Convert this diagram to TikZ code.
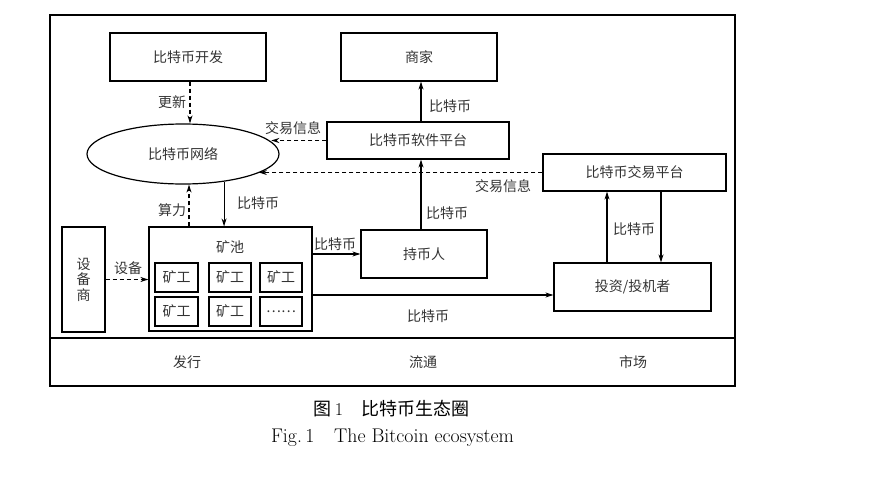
\documentclass[tikz,border=0pt]{standalone}
\usepackage{fontspec}
\newfontfamily\cjk{Noto Sans CJK SC}
\usetikzlibrary{arrows.meta,shapes.geometric}
\begin{document}
\begin{tikzpicture}[x=1pt,y=-1pt,
  lbl/.style={inner sep=0pt,text=black!80,font=\cjk\fontsize{14}{15.5}\selectfont},
  box/.style={lbl,draw=black,line width=1.2pt},
  minerbox/.style={lbl,draw=black,line width=1.8pt,minimum height=29pt},
  arr/.style={line width=1.1pt,-{Stealth[length=8pt,width=5pt]}},
  darr/.style={arr,dash pattern=on 4pt off 3pt}]
\useasboundingbox (0,0) rectangle (881,482);
% frame
\draw[line width=1.2pt] (50,15) rectangle (735,386);
\draw[line width=1.2pt] (50,338) -- (735,338);
% nodes
\node[box,minimum width=156pt,minimum height=48pt] (dev) at (188,57) {比特币开发};
\node[box,minimum width=156pt,minimum height=48pt] (shop) at (419,57) {商家};
\node[box,minimum width=182pt,minimum height=37pt] (soft) at (418,140.5) {比特币软件平台};
\node[box,minimum width=183pt,minimum height=37pt] (exch) at (634.5,172.5) {比特币交易平台};
\node[box,ellipse,minimum width=192pt,minimum height=60pt] (net) at (183,154) {比特币网络};
\node[box,minimum width=43pt,minimum height=105pt,align=center] (eq) at (83.5,279.5) {设\\备\\商};
\node[box,minimum width=163pt,minimum height=104pt] (pool) at (230.5,279) {};
\node[lbl] (pooltitle) at (230,247) {矿池};
\node[minerbox,minimum width=43pt] (m1) at (176.5,277.5) {矿工};
\node[minerbox,minimum width=42pt] (m2) at (230,277.5) {矿工};
\node[minerbox,minimum width=42pt] (m3) at (281,277.5) {矿工};
\node[minerbox,minimum width=43pt] (m4) at (176.5,311.5) {矿工};
\node[minerbox,minimum width=42pt] (m5) at (230,311.5) {矿工};
\node[minerbox,minimum width=42pt] (m6) at (281,311.5) {……};
\node[box,minimum width=126pt,minimum height=48pt] (holder) at (424,254) {持币人};
\node[box,minimum width=157pt,minimum height=48pt] (inv) at (632.5,287) {投资/投机者};
% helper coordinates
\coordinate (cA) at (190,0);
\coordinate (cB) at (189,0);
\coordinate (cC) at (421,0);
\coordinate (cD) at (0,295);
\coordinate (cE) at (607,0);
\coordinate (cF) at (661,0);
% connectors
\draw[darr] (dev.south -| cA) -- (net.north -| cA);
\draw[darr] (soft.west) -- (soft.west -| net.8.5);
\draw[darr] (exch.west) -- (exch.west -| net.-14);
\draw[darr] (pool.north -| cB) -- (net.south -| cB);
\draw[arr] (net.-34) -- (net.-34 |- pool.north);
\draw[arr] (soft.north -| cC) -- (shop.south -| cC);
\draw[arr] (holder.north -| cC) -- (soft.south -| cC);
\draw[darr] (eq.east) -- (eq.east -| pool.west);
\draw[arr] (holder.west -| pool.east) -- (holder.west);
\draw[arr] (pool.east |- cD) -- (inv.west |- cD);
\draw[arr] (inv.north -| cE) -- (exch.south -| cE);
\draw[arr] (exch.south -| cF) -- (inv.north -| cF);
% labels
\node[lbl] (l1) at (172,102) {更新};
\node[lbl] (l2) at (293,128) {交易信息};
\node[lbl] (l3) at (503,186) {交易信息};
\node[lbl] (l4) at (172,210) {算力};
\node[lbl] (l5) at (258,203) {比特币};
\node[lbl] (l6) at (450,106) {比特币};
\node[lbl] (l7) at (447,213) {比特币};
\node[lbl] (l8) at (128,268) {设备};
\node[lbl] (l9) at (335,244) {比特币};
\node[lbl] (l10) at (428,316) {比特币};
\node[lbl] (l11) at (634,229) {比特币};
\node[lbl] (b1) at (187,362) {发行};
\node[lbl] (b2) at (423,362) {流通};
\node[lbl] (b3) at (633,362) {市场};
% caption
\node[inner sep=0pt,font=\fontsize{18}{20}\selectfont] (cap1) at (391.5,409) {{\cjk 图}\,1\quad{\cjk 比特币生态圈}};
\node[inner sep=0pt,font=\fontsize{19.8}{22}\selectfont] (cap2) at (392.5,438) {Fig.\,1\quad The Bitcoin ecosystem};
\end{tikzpicture}
\end{document}
